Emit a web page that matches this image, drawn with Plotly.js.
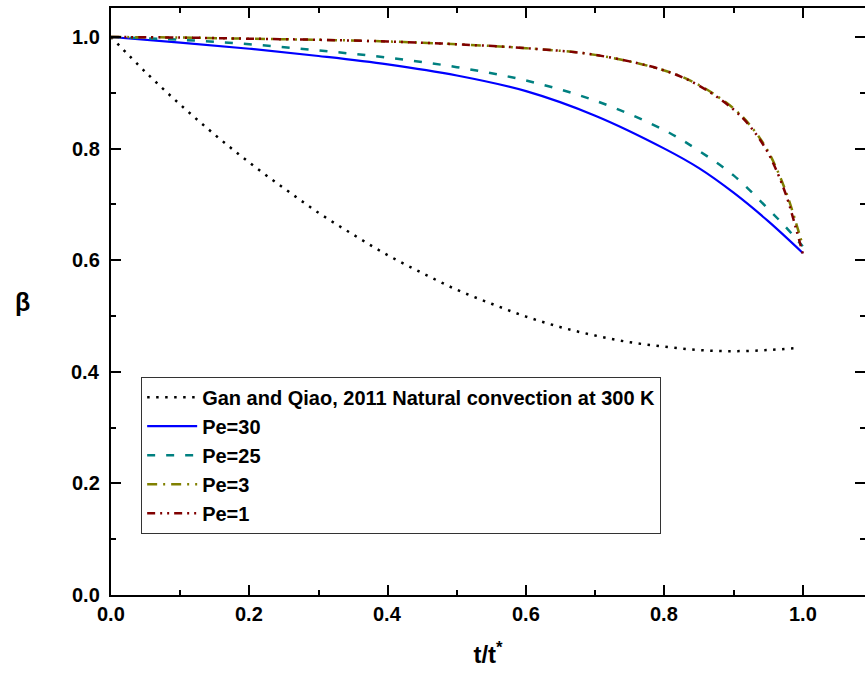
<!DOCTYPE html>
<html>
<head>
<meta charset="utf-8">
<script src="https://cdn.plot.ly/plotly-3.0.1.min.js"></script>
<style>html,body{margin:0;padding:0;background:#fff;}#chart{width:865px;height:679px;}</style>
</head>
<body>
<div id="chart"></div>
<script>
// Data
const ganT = [0, 0.05, 0.1, 0.15, 0.2, 0.25, 0.3, 0.35, 0.4, 0.45, 0.5, 0.55, 0.6, 0.65, 0.7, 0.75, 0.8, 0.85, 0.9, 0.95, 0.995];
const ganBeta = [1.0, 0.937, 0.879, 0.825, 0.775, 0.729, 0.685, 0.646, 0.609, 0.577, 0.547, 0.522, 0.499, 0.480, 0.465, 0.453, 0.445, 0.439, 0.437, 0.439, 0.443];

const pe30T = [0, 0.1, 0.2, 0.3, 0.4, 0.5, 0.6, 0.7, 0.8, 0.85, 0.9, 0.95, 1.0];
const pe30Beta = [1.0, 0.99, 0.979, 0.966, 0.951, 0.931, 0.903, 0.859, 0.800, 0.765, 0.721, 0.670, 0.613];

const pe25T = [0, 0.1, 0.2, 0.3, 0.4, 0.5, 0.6, 0.7, 0.8, 0.85, 0.9, 0.95, 0.975, 1.0];
const pe25Beta = [1.0, 0.995, 0.987, 0.976, 0.963, 0.946, 0.922, 0.886, 0.833, 0.796, 0.752, 0.692, 0.66, 0.625];

const pe3T = [0, 0.1, 0.2, 0.3, 0.4, 0.5, 0.6, 0.7, 0.8, 0.85, 0.9, 0.925, 0.95, 0.975, 0.99, 1.0];
const pe3Beta = [1.0, 0.999, 0.997, 0.995, 0.992, 0.987, 0.98, 0.968, 0.94, 0.914, 0.872, 0.84, 0.795, 0.725, 0.668, 0.626];

const pe1T = [0, 0.1, 0.2, 0.3, 0.4, 0.5, 0.6, 0.7, 0.8, 0.85, 0.9, 0.925, 0.95, 0.975, 0.99, 1.0];
const pe1Beta = [1.0, 0.999, 0.997, 0.995, 0.992, 0.987, 0.98, 0.968, 0.94, 0.913, 0.870, 0.838, 0.792, 0.72, 0.658, 0.612];

const seriesNames = ["Gan and Qiao, 2011 Natural convection at 300 K", "Pe=30", "Pe=25", "Pe=3", "Pe=1"];

// Tick labels (shared by both axes)
const tickValues = [0, 0.2, 0.4, 0.6, 0.8, 1.0];
const tickLabels = ["0.0", "0.2", "0.4", "0.6", "0.8", "1.0"];

const FONT = "'Liberation Sans', Arial, sans-serif";
const labelFont = {family: FONT, size: 20, color: '#000', weight: 'bold'};

const traces = [
  {x: ganT, y: ganBeta, name: seriesNames[0], mode: 'lines',
   line: {color: '#000000', width: 2.5, dash: '2.5px,6.5px', shape: 'spline'}},
  {x: pe30T, y: pe30Beta, name: seriesNames[1], mode: 'lines',
   line: {color: '#0000ff', width: 2.2, shape: 'spline'}},
  {x: pe25T, y: pe25Beta, name: seriesNames[2], mode: 'lines',
   line: {color: '#008080', width: 2.5, dash: '8px,11px', shape: 'spline'}},
  {x: pe3T, y: pe3Beta, name: seriesNames[3], mode: 'lines',
   line: {color: '#808000', width: 2.5, dash: '10px,6px,2px,6px', shape: 'spline'}},
  {x: pe1T, y: pe1Beta, name: seriesNames[4], mode: 'lines',
   line: {color: '#800000', width: 2.5, dash: '8px,5px,2px,5px,2px,5px', shape: 'spline'}}
];

const axisCommon = {
  showgrid: false, zeroline: false, showline: true, linecolor: '#000', linewidth: 2,
  mirror: 'ticks', ticks: 'inside', ticklen: 10, tickwidth: 2, tickcolor: '#000',
  tickmode: 'array', tickvals: tickValues, showticklabels: false,
  minor: {ticks: 'inside', ticklen: 5, tickwidth: 2, tickcolor: '#000', dtick: 0.1, tick0: 0}
};

// Tick labels placed through the axes' own scales
const tickAnnotations = [];
tickValues.forEach((v, i) => {
  tickAnnotations.push({text: tickLabels[i], xref: 'x', yref: 'paper', x: v, y: 0,
    xanchor: 'center', yanchor: 'top', yshift: -6, showarrow: false, font: labelFont});
  tickAnnotations.push({text: tickLabels[i], xref: 'paper', yref: 'y', x: 0, y: v,
    xanchor: 'right', yanchor: 'middle', xshift: -9, showarrow: false, font: labelFont});
});

const layout = {
  width: 865, height: 679,
  margin: {l: 111, r: 0, t: 8, b: 84},
  paper_bgcolor: '#fff', plot_bgcolor: '#fff',
  font: {family: FONT, color: '#000'},
  showlegend: true,
  legend: {
    x: 0.04, y: 0.372, xanchor: 'left', yanchor: 'top',
    bgcolor: 'rgba(255,255,255,0)', bordercolor: '#333', borderwidth: 1,
    font: {family: FONT, size: 20, color: '#000', weight: 'bold'},
    tracegroupgap: 0, itemwidth: 50
  },
  xaxis: Object.assign({}, axisCommon, {
    range: [0, 1.09],
    title: {text: 't/t<sup>*</sup>', font: {family: FONT, size: 24, color: '#000', weight: 'bold'}, standoff: 50}
  }),
  yaxis: Object.assign({}, axisCommon, {
    range: [0, 1.052]
  }),
  annotations: tickAnnotations.concat([{
    text: 'β', xref: 'paper', yref: 'paper', x: -0.117, y: 0.5, xanchor: 'center', yanchor: 'middle',
    showarrow: false, font: {family: FONT, size: 25, color: '#000', weight: 'bold'}
  }])
};

Plotly.newPlot('chart', traces, layout, {staticPlot: true, displayModeBar: false});
</script>
</body>
</html>
